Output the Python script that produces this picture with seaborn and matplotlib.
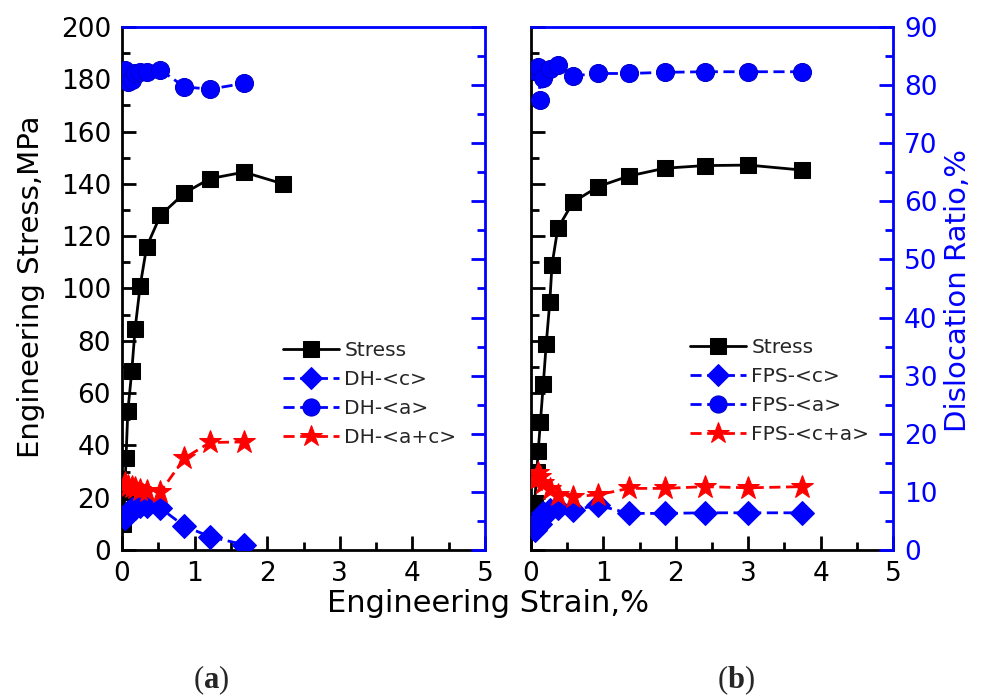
import matplotlib
matplotlib.use("Agg")
import matplotlib.pyplot as plt
from matplotlib.ticker import MultipleLocator
import seaborn as sns
import pandas as pd

# ---------------- data ----------------
# panel (a)
strain_a_stress = [0.02, 0.04, 0.055, 0.08, 0.135, 0.18, 0.25, 0.34, 0.53, 0.86, 1.21, 1.68, 2.22]
stress_a = [10, 22, 35, 53, 68.5, 84.5, 101, 116, 128, 136.5, 142, 144.5, 140]
strain_a_ratio = [0.04, 0.08, 0.135, 0.18, 0.25, 0.34, 0.53, 0.86, 1.21, 1.68]
dh_c = [5.5, 6.5, 7.0, 7.3, 7.5, 7.6, 7.2, 4.1, 2.3, 0.9]
dh_a = [82.6, 80.6, 80.8, 82.1, 82.2, 82.3, 82.6, 79.7, 79.3, 80.3]
dh_ac = [11.5, 11.0, 10.8, 10.6, 10.4, 10.2, 10.0, 15.8, 18.5, 18.6]
labels_a = ["Stress", "DH-<c>", "DH-<a>", "DH-<a+c>"]

# panel (b)
strain_b_stress = [0.05, 0.08, 0.10, 0.13, 0.17, 0.21, 0.26, 0.29, 0.37, 0.58, 0.93, 1.35, 1.85, 2.40, 3.00, 3.74]
stress_b = [18, 30, 38, 49, 63.5, 78.7, 95, 109, 123, 133, 139, 143, 146, 147, 147.2, 145.3]
strain_b_ratio = [0.05, 0.10, 0.13, 0.17, 0.26, 0.37, 0.58, 0.93, 1.35, 1.85, 2.40, 3.00, 3.74]
fps_c = [3.5, 5.0, 4.5, 6.3, 6.8, 7.2, 6.9, 7.7, 6.3, 6.3, 6.4, 6.4, 6.4]
fps_a = [82.5, 83.2, 77.5, 81.2, 82.8, 83.5, 81.6, 82.0, 82.0, 82.2, 82.3, 82.3, 82.3]
fps_ca = [12.0, 13.2, 12.6, 11.5, 10.5, 9.5, 9.2, 9.5, 10.6, 10.6, 10.9, 10.7, 10.9]
labels_b = ["Stress", "FPS-<c>", "FPS-<a>", "FPS-<c+a>"]

x_ticks = [0, 1, 2, 3, 4, 5]
stress_ticks = list(range(0, 201, 20))
ratio_ticks = list(range(0, 91, 10))

# ---------------- style ----------------
sns.set_theme(style="ticks")
plt.rcParams["font.family"] = ["DejaVu Sans"]
plt.rcParams["mathtext.fontset"] = "custom"
plt.rcParams["mathtext.bf"] = "Liberation Serif:bold"
plt.rcParams["mathtext.rm"] = "Liberation Serif"

BLUE = "#0000FF"
RED = "#FF0000"
W, H = 986, 695
fig = plt.figure(figsize=(W / 100, H / 100), dpi=100)

def fx(px):
    return px / W

def fy(py):
    return 1 - py / H

ax_top, ax_bot = 27, 550
panels = [
    dict(x0=122, x1=485, sx=strain_a_stress, s=stress_a, rx=strain_a_ratio,
         c=dh_c, a=dh_a, ac=dh_ac, labels=labels_a, show_left=True, show_right=False,
         leg=(283, 341)),
    dict(x0=531, x1=893, sx=strain_b_stress, s=stress_b, rx=strain_b_ratio,
         c=fps_c, a=fps_a, ac=fps_ca, labels=labels_b, show_left=False, show_right=True,
         leg=(690, 338)),
]

for p in panels:
    ax = fig.add_axes([fx(p["x0"]), fy(ax_bot), fx(p["x1"] - p["x0"]), (ax_bot - ax_top) / H])
    ax2 = ax.twinx()
    df_s = pd.DataFrame({"strain": p["sx"], "stress": p["s"]})
    df_r = pd.DataFrame({"strain": p["rx"], "c": p["c"], "a": p["a"], "ac": p["ac"]})

    sns.lineplot(data=df_s, x="strain", y="stress", ax=ax, color="black", marker="s",
                 markersize=12, markeredgecolor="black", linewidth=2, label=p["labels"][0])
    sns.lineplot(data=df_r, x="strain", y="c", ax=ax2, color=BLUE, marker="D",
                 markersize=12, markeredgecolor=BLUE, linewidth=2, linestyle=(0, (4, 2)),
                 label=p["labels"][1])
    sns.lineplot(data=df_r, x="strain", y="a", ax=ax2, color=BLUE, marker="o",
                 markersize=13, markeredgecolor="#0000CC", linewidth=2, linestyle=(0, (4, 2)),
                 label=p["labels"][2])
    sns.lineplot(data=df_r, x="strain", y="ac", ax=ax2, color=RED, marker="*",
                 markersize=17, markeredgecolor=RED, linewidth=2, linestyle=(0, (4, 2)),
                 label=p["labels"][3])

    for a_ in (ax, ax2):
        lg = a_.get_legend()
        if lg is not None:
            lg.remove()

    ax.set_xlim(0, 5)
    ax.set_ylim(0, 200)
    ax2.set_ylim(0, 90)
    ax.set_xticks(x_ticks)
    ax.set_yticks(stress_ticks)
    ax2.set_yticks(ratio_ticks)
    ax.xaxis.set_minor_locator(MultipleLocator(0.5))
    ax.yaxis.set_minor_locator(MultipleLocator(10))
    ax2.yaxis.set_minor_locator(MultipleLocator(5))
    ax.set_xlabel("")
    ax.set_ylabel("")
    ax2.set_ylabel("")

    ax.tick_params(axis="both", which="major", direction="in", length=10, width=2,
                   labelsize=19, color="black", labelcolor="black", pad=8)
    ax.tick_params(axis="both", which="minor", direction="in", length=6, width=2, color="black")
    ax.tick_params(axis="y", labelleft=p["show_left"])
    ax2.tick_params(axis="y", which="major", direction="in", length=10, width=2,
                    labelsize=19, color=BLUE, labelcolor=BLUE, labelright=p["show_right"], pad=8)
    ax2.tick_params(axis="y", which="minor", direction="in", length=6, width=2, color=BLUE)

    for name, sp in ax.spines.items():
        sp.set_linewidth(2)
        sp.set_color("black")
        if name in ("top", "right"):
            sp.set_visible(False)
    for name, sp in ax2.spines.items():
        sp.set_linewidth(2)
        if name in ("top", "right"):
            sp.set_color(BLUE)
            sp.set_visible(True)
        else:
            sp.set_visible(False)

    h1, l1 = ax.get_legend_handles_labels()
    h2, l2 = ax2.get_legend_handles_labels()
    lx, ly = p["leg"]
    ax2.legend(h1 + h2, l1 + l2, loc="upper left", bbox_to_anchor=(fx(lx), fy(ly)),
               bbox_transform=fig.transFigure, frameon=False, fontsize=14.5,
               handlelength=2.8, handletextpad=0.25, labelspacing=0.5, borderpad=0,
               borderaxespad=0, markerscale=0.95)

fig.text(fx(31), fy(287), "Engineering Stress,MPa", rotation=90, ha="center", va="center",
         fontsize=21, color="black")
fig.text(fx(958), fy(290), "Dislocation Ratio,%", rotation=90, ha="center", va="center",
         fontsize=21, color=BLUE)
fig.text(fx(488), fy(603), "Engineering Strain,%", ha="center", va="center",
         fontsize=22, color="black")
fig.text(fx(211), fy(680), r"($\mathbf{a}$)", ha="center", va="center", fontsize=22,
         family="Liberation Serif")
fig.text(fx(736), fy(680), r"($\mathbf{b}$)", ha="center", va="center", fontsize=22,
         family="Liberation Serif")

fig.savefig("out.png", dpi=100)
